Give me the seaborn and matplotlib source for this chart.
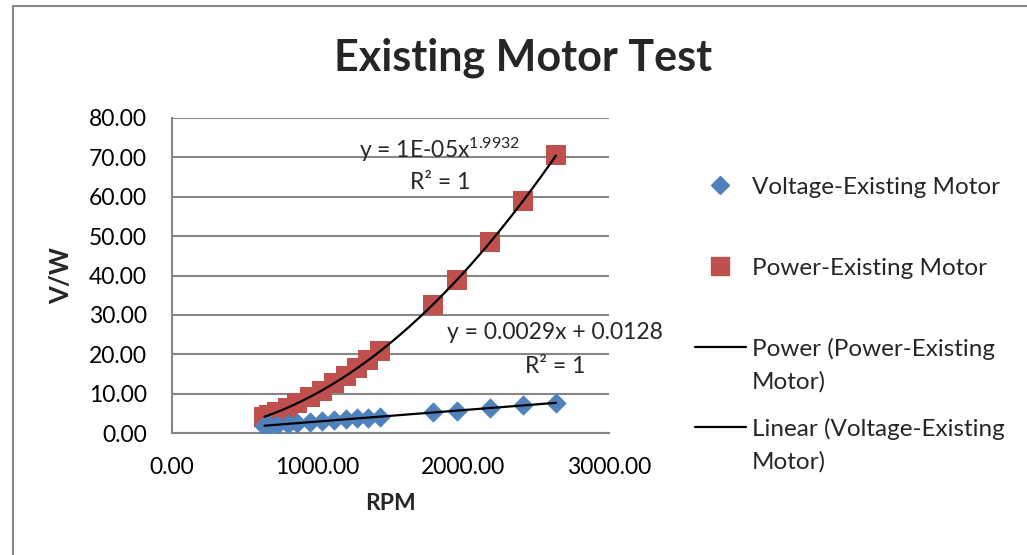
import numpy as np
import pandas as pd
import seaborn as sns
import matplotlib
matplotlib.use("Agg")
import matplotlib.pyplot as plt
from matplotlib.lines import Line2D
from matplotlib.patches import Rectangle

# ---- data ----
rpm = [635, 665, 720, 795, 860, 947, 1027, 1112, 1194, 1272, 1347, 1428,
       1791, 1956, 2183, 2409, 2636]
voltage = [1.85, 1.94, 2.10, 2.32, 2.51, 2.76, 2.99, 3.24, 3.48, 3.70, 3.92, 4.15,
           5.21, 5.69, 6.34, 7.00, 7.66]
power = [4.13, 4.53, 5.30, 6.46, 7.56, 9.16, 10.77, 12.6, 14.5, 16.5, 18.5, 20.7,
         32.6, 38.9, 48.4, 58.9, 70.6]
x_ticks = [0, 1000, 2000, 3000]
y_ticks = [0, 10, 20, 30, 40, 50, 60, 70, 80]
title = "Existing Motor Test"
legend_labels = [["Voltage-Existing Motor"], ["Power-Existing Motor"],
                 ["Power (Power-Existing", "Motor)"],
                 ["Linear (Voltage-Existing", "Motor)"]]
eq_power = ["y = 1E-05x$^{1.9932}$", "R² = 1"]
eq_linear = ["y = 0.0029x + 0.0128", "R² = 1"]

df = pd.DataFrame({"RPM": rpm, "Voltage": voltage, "Power": power})

sns.set_style("white")
plt.rcParams["font.family"] = ["Lato", "DejaVu Sans"]
plt.rcParams["mathtext.fontset"] = "custom"
plt.rcParams["mathtext.rm"] = "Lato"
plt.rcParams["mathtext.it"] = "Lato"

W, H = 1027, 555
fx = lambda x: x / W
fy = lambda y: 1 - y / H

fig = plt.figure(figsize=(W / 100, H / 100), dpi=100)
L, R, T, B = 172, 609, 118, 433
ax = fig.add_axes([L / W, 1 - B / H, (R - L) / W, (B - T) / H])

blue = "#4F81BD"
red = "#C0504D"
grid_c = "#868686"
FS = 16.5  # pt
cap = 0.36 * FS * 100 / 72  # half cap height in px (approx)

# fits
xr = np.linspace(min(rpm), max(rpm), 200)
bp, lna = np.polyfit(np.log(df["RPM"]), np.log(df["Power"]), 1)
pfit = np.exp(lna) * xr ** bp
m, c = np.polyfit(df["RPM"], df["Voltage"], 1)
vfit = m * xr + c

sns.scatterplot(data=df, x="RPM", y="Power", marker="s", s=14.4 ** 2, color=red,
                linewidth=0, ax=ax, zorder=3)
sns.scatterplot(data=df, x="RPM", y="Voltage", marker="D", s=10.4 ** 2, color=blue,
                linewidth=0, ax=ax, zorder=4)
sns.lineplot(x=xr, y=pfit, color="black", lw=1.6, ax=ax, zorder=5)
sns.lineplot(x=xr, y=vfit, color="black", lw=1.6, ax=ax, zorder=5)

ax.set_xlim(0, 3000)
ax.set_ylim(0, 80)
ax.set_xticks(x_ticks)
ax.set_yticks(y_ticks)
ax.set_xticklabels([f"{v:.2f}" for v in x_ticks])
ax.set_yticklabels([f"{v:.2f}" for v in y_ticks])
ax.tick_params(axis="both", length=0, labelsize=FS, colors="black")
ax.tick_params(axis="y", pad=18)
ax.tick_params(axis="x", pad=17)
ax.yaxis.grid(True, color=grid_c, lw=1.5)
ax.xaxis.grid(False)
ax.set_axisbelow(True)
for s in ["top", "right"]:
    ax.spines[s].set_visible(False)
for s in ["left", "bottom"]:
    ax.spines[s].set_color(grid_c)
    ax.spines[s].set_linewidth(1.5)

ax.set_xlabel("RPM", fontsize=16.5, fontweight="bold", labelpad=11)
ax.set_ylabel("V/W", fontsize=18.5, fontweight="bold", labelpad=11)

fig.text(fx(523), fy(58), title, fontsize=31, fontweight="bold",
         ha="center", va="center")

# trendline labels (one text per line)
for i, (line, yc) in enumerate(zip(eq_power, [150, 181])):
    fig.text(fx(440), fy(yc + cap), line, ha="center", va="baseline",
             fontsize=FS, zorder=6)
for i, (line, yc) in enumerate(zip(eq_linear, [331, 365])):
    fig.text(fx(555), fy(yc + cap), line, ha="center", va="baseline",
             fontsize=FS, zorder=6)

# legend (drawn entry by entry to match the spacing of the reference)
LFS = 17.5
lcap = 0.36 * LFS * 100 / 72
entry_y = [185, 266, 347, 427]
line_gap = 33
handles = [
    dict(marker="D", color=blue, linestyle="none", markersize=9.2),
    dict(marker="s", color=red, linestyle="none", markersize=13),
    dict(color="black", lw=1.6),
    dict(color="black", lw=1.6),
]
for lab, yc, h in zip(legend_labels, entry_y, handles):
    if h.get("linestyle") == "none":
        fig.add_artist(Line2D([fx(720)], [fy(yc)], transform=fig.transFigure, **h))
    else:
        fig.add_artist(Line2D([fx(695), fx(746)], [fy(yc), fy(yc)],
                              transform=fig.transFigure, **h))
    for k, txt in enumerate(lab):
        fig.text(fx(752), fy(yc + k * line_gap + lcap), txt, ha="left",
                 va="baseline", fontsize=LFS)

fig.patches.append(Rectangle((13 / W, -0.2), 1.2, 1 - 6 / H + 0.2,
                             transform=fig.transFigure, fill=False,
                             edgecolor=grid_c, lw=1.5))

fig.savefig("out.png", dpi=100)
